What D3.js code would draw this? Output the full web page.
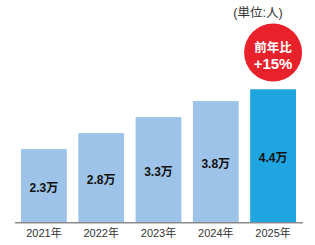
<!DOCTYPE html>
<html lang="ja">
<head>
<meta charset="UTF-8">
<title>Chart</title>
<style>
  body { margin: 0; background: #fff; }
  svg text { font-family: "Liberation Sans", Arial, "Noto Sans CJK JP", sans-serif; }
</style>
</head>
<body>
<svg id="chart" width="315" height="245"></svg>
<script src="https://d3js.org/d3.v7.min.js"></script>
<script>
// data
const years = ["2021年", "2022年", "2023年", "2024年", "2025年"];
const values = [2.3, 2.8, 3.3, 3.8, 4.17];
const valueLabels = ["2.3万", "2.8万", "3.3万", "3.8万", "4.4万"];
const badgeLines = ["前年比", "+15%"];
const unitLabel = "(単位:人)";

const svg = d3.select("#chart");
const baseY = 222.7;

const x = d3.scaleBand().domain(years).range([21, 296]).paddingInner(0.2).paddingOuter(0);
const y = d3.scaleLinear().domain([0, 5]).range([baseY, baseY - 160]);

// bars
svg.selectAll("rect.bar")
  .data(years)
  .join("rect")
  .attr("class", "bar")
  .attr("x", d => x(d))
  .attr("width", x.bandwidth())
  .attr("y", (d, i) => y(values[i]))
  .attr("height", (d, i) => baseY - y(values[i]))
  .attr("fill", (d, i) => i === years.length - 1 ? "#1fa5e0" : "#9dc3e8");

// value labels
svg.selectAll("text.val")
  .data(years)
  .join("text")
  .attr("class", "val")
  .attr("x", d => x(d) + x.bandwidth() / 2)
  .attr("y", (d, i) => (y(values[i]) + baseY) / 2 + 2)
  .attr("text-anchor", "middle")
  .attr("dominant-baseline", "central")
  .attr("font-size", 12)
  .attr("font-weight", "bold")
  .attr("fill", "#111")
  .text((d, i) => valueLabels[i]);

// baseline axis
const xAxis = svg.append("g")
  .attr("transform", `translate(0,${baseY})`)
  .call(d3.axisBottom(x).tickSize(0).tickPadding(7));
xAxis.select(".domain").remove();
xAxis.selectAll("text")
  .attr("font-size", 11)
  .attr("fill", "#333")
  .style("font-family", "\"Liberation Sans\", Arial, \"Noto Sans CJK JP\", sans-serif");
svg.append("line")
  .attr("x1", 15).attr("x2", 303)
  .attr("y1", baseY).attr("y2", baseY)
  .attr("stroke", "#8a8a8a").attr("stroke-width", 1.5);

// badge above last bar
const lastX = x(years[years.length - 1]) + x.bandwidth() / 2;
svg.append("circle")
  .attr("cx", lastX).attr("cy", 52.5).attr("r", 29)
  .attr("fill", "#e8212b");
svg.selectAll("text.badge")
  .data(badgeLines)
  .join("text")
  .attr("class", "badge")
  .attr("x", lastX)
  .attr("y", (d, i) => 47.5 + i * 16)
  .attr("text-anchor", "middle")
  .attr("dominant-baseline", "central")
  .attr("font-size", (d, i) => i === 0 ? 12.5 : 15)
  .attr("font-weight", "bold")
  .attr("fill", "#fff")
  .text(d => d);

// unit
svg.append("text")
  .attr("x", 258).attr("y", 13)
  .attr("text-anchor", "middle")
  .attr("dominant-baseline", "central")
  .attr("font-size", 12.5)
  .attr("fill", "#333")
  .text(unitLabel);
</script>
</body>
</html>
